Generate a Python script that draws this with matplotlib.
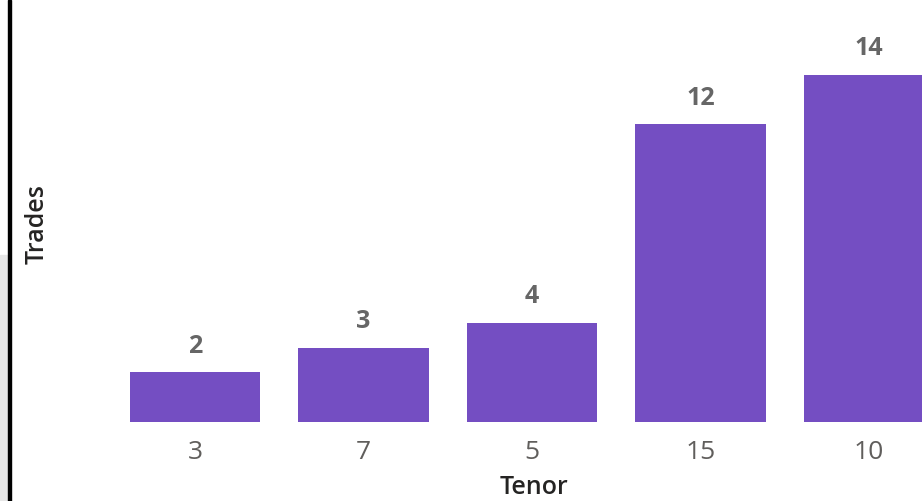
import matplotlib
matplotlib.use('Agg')
import matplotlib.pyplot as plt
from matplotlib.patches import Rectangle

# data
tenors = ['3', '7', '5', '15', '10']
trades = [2, 3, 4, 12, 14]

bar_color = '#744EC2'
W, H = 922, 501

plt.rcParams['font.family'] = ['Open Sans', 'DejaVu Sans']

fig = plt.figure(figsize=(W / 100, H / 100), dpi=100)

# axes placed in pixel terms
ax_left, ax_right = 10, 922
ax_bottom, ax_top = 79, 501
ax = fig.add_axes([ax_left / W, ax_bottom / H, (ax_right - ax_left) / W, (ax_top - ax_bottom) / H])

x = list(range(len(tenors)))
bars = ax.bar(x, trades, width=0.777, color=bar_color)

step = 168.5
ax.set_xlim((ax_left - 195) / step, (ax_right - 195) / step)
ax.set_ylim(0, 422 / 24.8)

for b, v in zip(bars, trades):
    ax.annotate(str(v), (b.get_x() + b.get_width() / 2, v), xytext=(0, 10),
                textcoords='offset points', ha='center', va='bottom',
                fontsize=18, fontweight='bold', color='#666666')

ax.set_xticks(x)
ax.set_xticklabels(tenors, fontsize=19, color='#605E5C')
ax.tick_params(axis='x', length=0, pad=13)
ax.set_yticks([])
for s in ax.spines.values():
    s.set_visible(False)

fig.text(534 / W, 1 - 487 / H, 'Tenor', ha='center', va='center', fontsize=18,
         fontweight='semibold', color='#252423')
fig.text(37 / W, 1 - 224 / H, 'Trades', ha='center', va='center', rotation=90,
         fontsize=18, fontweight='semibold', color='#252423')

# frame pieces on the left
fig.patches.append(Rectangle((0, 0), 8 / W, (H - 255) / H, transform=fig.transFigure,
                             color='#E6E6E6', zorder=0))
fig.patches.append(Rectangle((8 / W, 0), 3 / W, 1, transform=fig.transFigure,
                             color='black', zorder=1))

fig.savefig('out.png', dpi=100)
